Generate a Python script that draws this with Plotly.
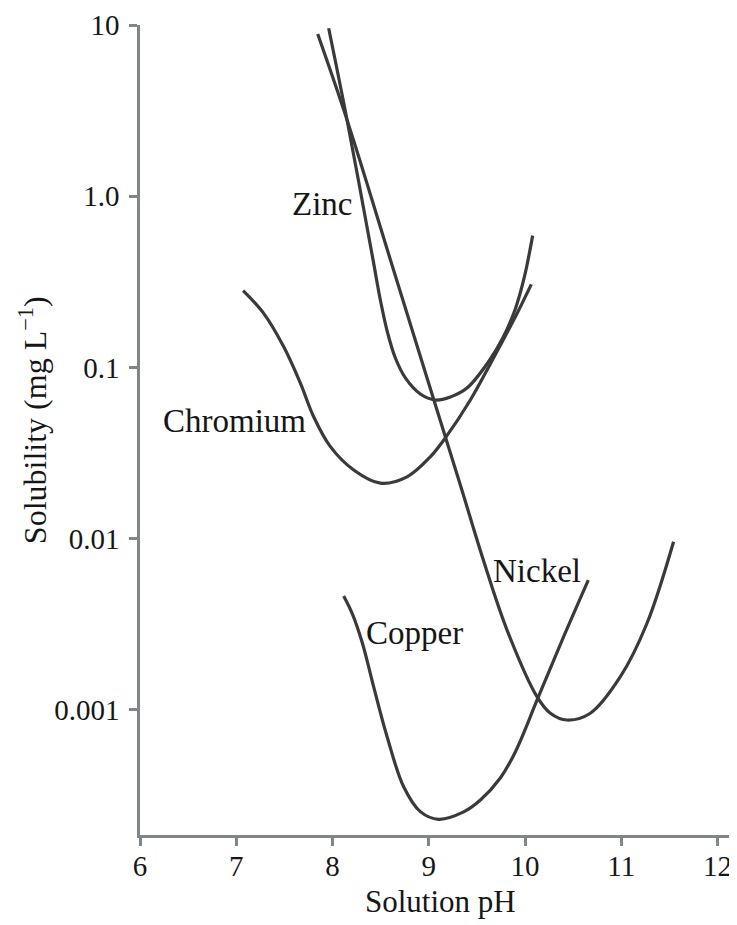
import math
import plotly.graph_objects as go

# Solution pH and solubility (mg/L)
zinc_ph = [7.96, 8.151, 8.421, 8.497, 8.570, 8.653, 8.757, 8.912, 9.068, 9.224, 9.397, 9.619, 9.774, 9.899, 9.993, 10.079]
zinc_sol = [9.57, 2.79, 0.425, 0.2478, 0.1611, 0.1136, 0.0869, 0.0700, 0.0646, 0.0673, 0.0759, 0.1077, 0.1507, 0.2197, 0.3377, 0.589]

nickel_ph = [7.846, 8.151, 8.618, 8.982, 9.328, 9.570, 9.813, 10.124, 10.263, 10.436, 10.678, 10.990, 11.267, 11.543]
nickel_sol = [8.86, 2.79, 0.397, 0.0869, 0.0206, 0.00741, 0.00293, 0.001196, 0.000957, 0.000874, 0.000957, 0.001564, 0.00321, 0.00961]

chromium_ph = [7.071, 7.285, 7.493, 7.666, 7.804, 7.978, 8.220, 8.497, 8.774, 9.016, 9.172, 9.432, 9.639, 9.795, 9.930, 10.065]
chromium_sol = [0.281, 0.207, 0.132, 0.0811, 0.0516, 0.0345, 0.0252, 0.0211, 0.0230, 0.0301, 0.0388, 0.0646, 0.1048, 0.1527, 0.2138, 0.306]

copper_ph = [8.116, 8.206, 8.310, 8.427, 8.567, 8.739, 8.912, 9.102, 9.362, 9.536, 9.743, 9.899, 10.135, 10.413, 10.657]
copper_sol = [0.00463, 0.00364, 0.00246, 0.001368, 0.000698, 0.000356, 0.000255, 0.000230, 0.000254, 0.000298, 0.000401, 0.000569, 0.00118, 0.00278, 0.00574]

label_names = ["Zinc", "Chromium", "Copper", "Nickel"]
label_ph = [7.894, 6.98, 8.85, 10.124]
label_sol = [0.90, 0.0487, 0.00282, 0.00648]

y_tickvals = [10, 1, 0.1, 0.01, 0.001]
y_ticktext = ["10", "1.0", "0.1", "0.01", "0.001"]
x_tickvals = [6, 7, 8, 9, 10, 11, 12]

FONT = "Liberation Serif, Times New Roman, serif"
TEXT_COLOR = "#161616"
LINE_COLOR = "#3a3a3c"
AXIS_COLOR = "#80858c"

fig = go.Figure()
for xs, ys, name in [(zinc_ph, zinc_sol, "Zinc"), (nickel_ph, nickel_sol, "Nickel"),
                     (chromium_ph, chromium_sol, "Chromium"), (copper_ph, copper_sol, "Copper")]:
    fig.add_trace(go.Scatter(x=xs, y=ys, mode="lines", name=name,
                             line=dict(color=LINE_COLOR, width=3.2, shape="spline", smoothing=1.0),
                             showlegend=False, cliponaxis=False))

for name, lx, ly in zip(label_names, label_ph, label_sol):
    fig.add_annotation(x=lx, y=math.log10(ly), xref="x", yref="y", text=name, showarrow=False,
                       font=dict(family=FONT, size=33, color=TEXT_COLOR),
                       xanchor="center", yanchor="middle")

fig.add_annotation(text="Solution pH", xref="paper", yref="paper", x=0.507, y=-0.0815,
                   showarrow=False, xanchor="center", yanchor="middle",
                   font=dict(family=FONT, size=31, color=TEXT_COLOR))
fig.add_annotation(text="Solubility (mg L<sup>−1</sup>)", xref="paper", yref="paper",
                   x=-0.181, y=0.512, textangle=-90, showarrow=False,
                   xanchor="center", yanchor="middle",
                   font=dict(family=FONT, size=32, color=TEXT_COLOR))

fig.update_xaxes(range=[6, 12.15], tickvals=x_tickvals, showgrid=False, zeroline=False,
                 showline=True, linecolor=AXIS_COLOR, linewidth=2.5,
                 ticks="outside", ticklen=8, tickwidth=2.5, tickcolor=AXIS_COLOR,
                 ticklabelstandoff=-5,
                 tickfont=dict(family=FONT, size=29, color=TEXT_COLOR), automargin=False)
fig.update_yaxes(type="log", range=[-3.73, 1.0], tickvals=y_tickvals, ticktext=y_ticktext,
                 showgrid=False, zeroline=False,
                 showline=True, linecolor=AXIS_COLOR, linewidth=2.5,
                 ticks="outside", ticklen=8, tickwidth=2.5, tickcolor=AXIS_COLOR,
                 ticklabelstandoff=4,
                 tickfont=dict(family=FONT, size=29, color=TEXT_COLOR), automargin=False)

# page body has an 8px margin, so the figure is sized/offset to land on the reference pixels
fig.update_layout(width=729, height=917, margin=dict(l=131.5, r=5, t=17, b=90),
                  plot_bgcolor="white", paper_bgcolor="white")

fig.write_html("out.html")
